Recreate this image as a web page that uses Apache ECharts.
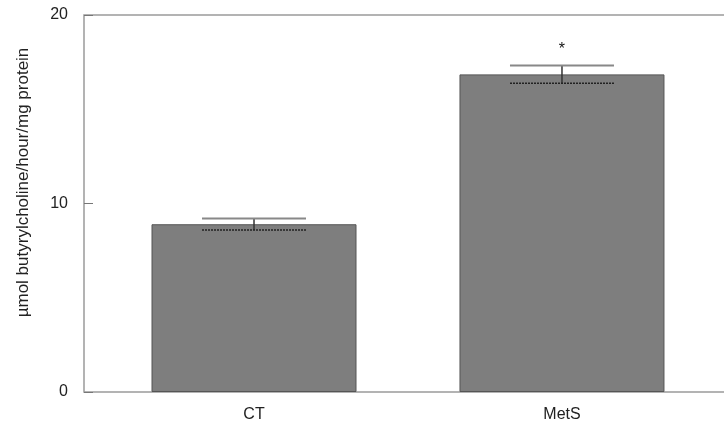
<!DOCTYPE html>
<html>
<head>
<meta charset="UTF-8">
<title>Chart</title>
<script src="https://cdn.jsdelivr.net/npm/echarts@6/dist/echarts.min.js"></script>
<style>
  html, body { margin: 0; padding: 0; background: #fff; }
  #main { width: 724px; height: 433px; }
</style>
</head>
<body>
<div id="main"></div>
<script>
// data
var groups = ['CT', 'MetS'];
var means = [8.9, 16.85];
var errors = [0.31, 0.47];
var sigMarks = ['', '*'];
var yTicks = [0, 10, 20];

var chart = echarts.init(document.getElementById('main'));

var barData = [];
var errData = [];
for (var i = 0; i < groups.length; i++) {
    barData.push([i + 1, means[i]]);
    errData.push([i + 1, means[i] - errors[i], means[i] + errors[i]]);
}

var option = {
    animation: false,
    grid: {
        left: 84, width: 660, top: 15, bottom: 41,
        outerBoundsMode: 'none',
        show: true, borderColor: '#9a9a9a', borderWidth: 1.5
    },
    xAxis: {
        type: 'value', min: 0.448, max: 2.591,
        splitLine: { show: false },
        axisTick: { show: false },
        axisLine: { show: false },
        axisLabel: {
            color: '#222', fontSize: 16, margin: 15,
            fontFamily: 'Liberation Sans',
            customValues: [1, 2],
            formatter: function (v) { return groups[Math.round(v) - 1] || ''; }
        }
    },
    yAxis: {
        type: 'value', min: 0, max: 20,
        splitLine: { show: false },
        axisLine: { show: false },
        axisTick: { show: true, inside: true, length: 9, customValues: yTicks, lineStyle: { color: '#777' } },
        axisLabel: { color: '#222', fontSize: 16, margin: 16, padding: [5, 0, 0, 0], fontFamily: 'Liberation Sans', customValues: yTicks },
        name: 'µmol butyrylcholine/hour/mg protein',
        nameLocation: 'middle',
        nameGap: 52,
        nameTextStyle: { color: '#222', fontSize: 17, fontFamily: 'Liberation Sans', padding: [0, 0, 0, 42] }
    },
    series: [
        {
            type: 'bar',
            data: barData,
            barWidth: 205,
            itemStyle: { color: '#7e7e7e', borderColor: '#555', borderWidth: 1 },
            label: {
                show: true, position: 'top', distance: 17,
                fontSize: 16, color: '#111', fontFamily: 'Liberation Sans',
                formatter: function (p) { return sigMarks[p.dataIndex]; }
            }
        },
        {
            type: 'custom',
            data: errData,
            z: 5,
            renderItem: function (params, api) {
                var x = api.value(0);
                var lo = api.coord([x, api.value(1)]);
                var hi = api.coord([x, api.value(2)]);
                var half = 52;
                return {
                    type: 'group',
                    children: [
                        { type: 'line', shape: { x1: lo[0], y1: lo[1], x2: hi[0], y2: hi[1] }, style: { stroke: '#333', lineWidth: 1.5 } },
                        { type: 'line', shape: { x1: hi[0] - half, y1: hi[1], x2: hi[0] + half, y2: hi[1] }, style: { stroke: '#888', lineWidth: 2 } },
                        { type: 'line', shape: { x1: lo[0] - half, y1: lo[1], x2: lo[0] + half, y2: lo[1] }, style: { stroke: '#222', lineWidth: 1.5, lineDash: [2, 1] } }
                    ]
                };
            }
        }
    ]
};

chart.setOption(option);
</script>
</body>
</html>
